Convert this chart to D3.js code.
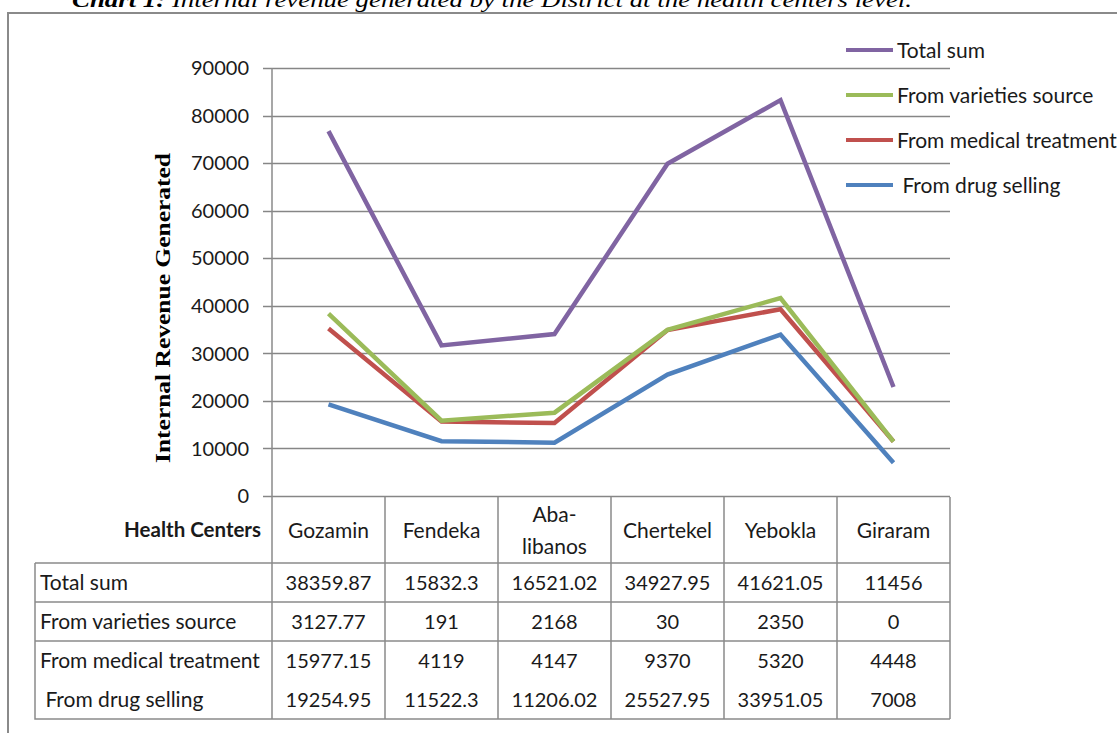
<!DOCTYPE html>
<html>
<head>
<meta charset="utf-8">
<script src="https://cdn.jsdelivr.net/npm/d3@7"></script>
<style>
  body { margin: 0; background: #fff; }
  svg { display: block; }
  .tick-label, .cell, .legend-text { font-family: Lato, "Open Sans", sans-serif; fill: #1a1a1a; }
</style>
</head>
<body>
<div id="chart"></div>
<script>
const centers = ["Gozamin", "Fendeka", "Aba-libanos", "Chertekel", "Yebokla", "Giraram"];
const drugSelling = [19254.95, 11522.3, 11206.02, 25527.95, 33951.05, 7008];
const medicalTreatment = [15977.15, 4119, 4147, 9370, 5320, 4448];
const varietiesSource = [3127.77, 191, 2168, 30, 2350, 0];
const totalSum = [38359.87, 15832.3, 16521.02, 34927.95, 41621.05, 11456];
const yTicks = [0, 10000, 20000, 30000, 40000, 50000, 60000, 70000, 80000, 90000];

// series in stacking order (Excel stacked line)
const series = [
  { key: "drug", name: " From drug selling", values: drugSelling, color: "#4f81bd" },
  { key: "medical", name: "From medical treatment", values: medicalTreatment, color: "#c0504d" },
  { key: "varieties", name: "From varieties source", values: varietiesSource, color: "#9bbb59" },
  { key: "total", name: "Total sum", values: totalSum, color: "#8064a2" },
];

// table rows (top to bottom)
const tableRows = [
  { label: "Total sum", values: totalSum },
  { label: "From varieties source", values: varietiesSource },
  { label: "From medical treatment", values: medicalTreatment },
  { label: " From drug selling", values: drugSelling },
];

const W = 1117, H = 733;
const svg = d3.select("#chart").append("svg").attr("width", W).attr("height", H);

// outer frame
svg.append("path")
  .attr("d", `M8,${H} V13 H${W}`)
  .attr("fill", "none").attr("stroke", "#8a8a8a").attr("stroke-width", 2);

// title, cut off at the top like the scan
const title = svg.append("text")
  .attr("x", 72).attr("y", 7)
  .attr("textLength", 840).attr("lengthAdjust", "spacingAndGlyphs")
  .style("font-family", "'Liberation Serif', 'DejaVu Serif', serif")
  .style("font-size", "22px").style("font-style", "italic");
title.append("tspan").style("font-weight", "bold").text("Chart 1:");
title.append("tspan").text(" Internal revenue generated by the District at the health centers level.");

// scales
const x = d3.scaleBand().domain(centers).range([272, 950]).padding(0);
const y = d3.scaleLinear().domain([0, 90000]).range([496, 68]);
const cx = d => x(d) + x.bandwidth() / 2;

// stacked values
const rows = centers.map((c, i) => {
  const r = { center: c };
  series.forEach(s => r[s.key] = s.values[i]);
  return r;
});
const stacked = d3.stack().keys(series.map(s => s.key))(rows);

// gridlines
svg.append("g")
  .selectAll("line")
  .data(yTicks)
  .join("line")
  .attr("x1", 263).attr("x2", 950)
  .attr("y1", d => Math.round(y(d)) + 0.5).attr("y2", d => Math.round(y(d)) + 0.5)
  .attr("stroke", "#868686").attr("stroke-width", 1.5);

// y tick labels
svg.append("g")
  .selectAll("text")
  .data(yTicks)
  .join("text")
  .attr("class", "tick-label")
  .attr("x", 249).attr("y", d => y(d))
  .attr("dy", "0.36em")
  .attr("text-anchor", "end")
  .style("font-size", "20px")
  .text(d => d);

// y axis title
svg.append("text")
  .attr("transform", "translate(170,308) rotate(-90)")
  .attr("text-anchor", "middle")
  .attr("textLength", 310).attr("lengthAdjust", "spacingAndGlyphs")
  .style("font-family", "'Liberation Serif', 'DejaVu Serif', serif")
  .style("font-size", "22px").style("font-weight", "bold")
  .text("Internal Revenue Generated");

// table grid
const tableTop = 497, headerBottom = 563, rowH = 39, tableBottom = headerBottom + rowH * 4;
const grid = svg.append("g").attr("stroke", "#8a8a8a").attr("stroke-width", 1.5).attr("fill", "none");

// vertical axis line, continues down as the table's first column line
grid.append("line").attr("x1", 272).attr("x2", 272).attr("y1", 68).attr("y2", tableBottom);
// column separators
grid.selectAll(".col")
  .data(centers)
  .join("line")
  .attr("class", "col")
  .attr("x1", d => x(d) + x.bandwidth()).attr("x2", d => x(d) + x.bandwidth())
  .attr("y1", tableTop).attr("y2", tableBottom);
// row lines (none between the last two rows)
grid.selectAll(".row")
  .data([0, 1, 2])
  .join("line")
  .attr("class", "row")
  .attr("x1", 35).attr("x2", 950)
  .attr("y1", d => headerBottom + d * rowH).attr("y2", d => headerBottom + d * rowH);
grid.append("path").attr("d", `M35,${headerBottom} V${tableBottom} H950`);

// header row
svg.append("text")
  .attr("class", "cell")
  .attr("x", 261).attr("y", 530).attr("dy", "0.36em")
  .attr("text-anchor", "end")
  .style("font-size", "20.5px").style("font-weight", "bold")
  .text("Health Centers");

svg.append("g")
  .selectAll("text")
  .data(centers)
  .join("text")
  .attr("class", "cell")
  .attr("x", d => cx(d))
  .attr("text-anchor", "middle")
  .style("font-size", "21px")
  .each(function (d) {
    const t = d3.select(this);
    if (d === "Aba-libanos") {
      t.append("tspan").attr("x", cx(d)).attr("y", 514).attr("dy", "0.36em").text("Aba-");
      t.append("tspan").attr("x", cx(d)).attr("y", 546).attr("dy", "0.36em").text("libanos");
    } else {
      t.attr("y", 530).attr("dy", "0.36em").text(d);
    }
  });

// data rows
const rowG = svg.append("g")
  .selectAll("g")
  .data(tableRows)
  .join("g")
  .attr("transform", (d, i) => `translate(0,${headerBottom + rowH * i + rowH / 2})`);

rowG.append("text")
  .attr("class", "cell")
  .attr("x", 40).attr("dy", "0.36em")
  .style("white-space", "pre")
  .style("font-size", "21px")
  .text(d => d.label);

rowG.selectAll(".val")
  .data(d => d.values)
  .join("text")
  .attr("class", "cell val")
  .attr("x", (d, i) => cx(centers[i]))
  .attr("dy", "0.36em")
  .attr("text-anchor", "middle")
  .style("font-size", "20px")
  .text(d => d);

// lines
const line = d3.line()
  .x(d => cx(d.data.center))
  .y(d => y(d[1]));

svg.append("g")
  .selectAll("path")
  .data(stacked)
  .join("path")
  .attr("d", line)
  .attr("fill", "none")
  .attr("stroke", (d, i) => series[i].color)
  .attr("stroke-width", 4.5)
  .attr("stroke-linejoin", "miter");

// legend (reverse order)
const legend = svg.append("g")
  .selectAll("g")
  .data(series.slice().reverse())
  .join("g")
  .attr("transform", (d, i) => `translate(846,${50 + i * 45})`);

legend.append("line")
  .attr("x1", 0).attr("x2", 47)
  .attr("stroke", d => d.color).attr("stroke-width", 4);

legend.append("text")
  .attr("class", "legend-text")
  .attr("x", 51).attr("dy", "0.36em")
  .style("white-space", "pre")
  .style("font-size", "21px")
  .text(d => d.name);
</script>
</body>
</html>
